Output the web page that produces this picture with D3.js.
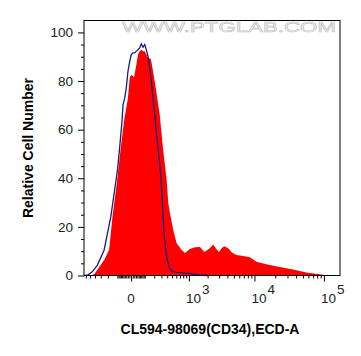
<!DOCTYPE html>
<html><head><meta charset="utf-8">
<script src="https://cdn.jsdelivr.net/npm/d3@7"></script>
<style>body{margin:0;background:#fff}svg{display:block}</style>
</head><body>
<svg id="chart" width="361" height="356"></svg>
<script>
// Control (isotype) histogram – blue line
const controlX = [-650,-544,-449,-355,-250,-166,-99,-80,-61,-53,-41,-30,-19,-8,1,11,22,33,45,57,70,84,99,114,130,148,166,185,206,226,250,279,298,314,342,372,402,435,505,610,800,1040,1514,2000];
const controlY = [0,0.3,1.6,4.3,10.5,24.2,43.4,52.5,63.5,70.3,73.0,77.2,84.0,88.1,90.9,91.6,91.6,92.3,92.9,93.6,95.3,93.9,95.0,92.9,90.2,85.4,79.9,73.0,66.2,59.3,52.5,44.8,38.1,31.1,17.5,10.5,6.4,3.6,1.6,1.3,1.1,0.8,0.2,0];
// CD34 stained histogram – red fill
const sampleX = [-498,-415,-250,-186,-148,-105,-71,-46,-19,-8,1,18,33,45,57,70,84,99,114,130,159,173,206,226,274,325,390,421,455,527,610,751,856,1040,1258,1514,1783,2093,2439,2681,2977,3304,3602,4102,4655,5460,6825,8550,10700,14930,23200,36000,56000,86900,102400,120000];
const sampleY = [0,0.5,6.4,10.5,24.2,37.9,52.5,63.5,73.0,81.3,82.6,81.6,86.7,90.9,92.3,92.9,92.3,92.3,90.9,89.5,89.2,86.7,79.9,75.8,66.2,52.5,39.3,29.7,25.6,18.7,13.3,10.5,9.3,10.9,11.6,11.7,9.7,10.9,12.8,11.1,9.7,11.3,12.0,11.2,9.5,8.4,8.0,7.5,5.7,4.6,3.5,2.5,1.2,0.5,0.2,0];

const yTicks = [0,20,40,60,80,100];
const yMinorTicks = [5,10,15,25,30,35,45,50,55,65,70,75,85,90,95];
const xMajorTicks = [0,1000,10000,100000];
const xTickExponents = [null,3,4,5];
const xMinorTicks = [-600,-500,-400,-300,-200,-100,-90,-80,-70,-60,-50,-40,-30,-20,-10,10,20,30,40,50,60,70,80,90,100,200,300,400,500,600,700,800,900,
  2000,3000,4000,5000,6000,7000,8000,9000,20000,30000,40000,50000,60000,70000,80000,90000];
const xTitle = "CL594-98069(CD34),ECD-A";
const yTitle = "Relative Cell Number";
const watermark = "WWW.PTGLAB.COM";

const L = 84, R = 340, T = 20.5, B = 275.5;
const svg = d3.select("#chart");
const x = d3.scaleSymlog().constant(175).domain([-650,170000]).range([L,R]);
const y = d3.scaleLinear().domain([0,104.9]).range([B,T]);
const font = "'Liberation Sans', Arial, sans-serif";

// watermark
svg.append("text").attr("x",122).attr("y",32).attr("textLength",214).attr("lengthAdjust","spacingAndGlyphs")
  .attr("font-family",font).attr("font-size",14)
  .attr("fill","#f6f6f6").attr("stroke","#c4c4c4").attr("stroke-width",0.6).text(watermark);

const g = svg.append("g");
const area = d3.area().x((d,i)=>x(sampleX[i])).y0(y(0)).y1((d,i)=>y(sampleY[i]));
g.append("path").datum(sampleY).attr("d",area).attr("fill","#ff0000");
const line = d3.line().x((d,i)=>x(controlX[i])).y((d,i)=>y(controlY[i]));
g.append("path").datum(controlY).attr("d",line).attr("fill","none").attr("stroke","#1a1a80").attr("stroke-width",1.3);

// frame
svg.append("rect").attr("x",L).attr("y",T).attr("width",R-L).attr("height",B-T)
  .attr("fill","none").attr("stroke","#000").attr("stroke-width",1);

// y axis
const yMaj = svg.append("g").attr("transform",`translate(${L},0)`)
  .call(d3.axisLeft(y).tickValues(yTicks).tickSize(6).tickPadding(5));
const yMin = svg.append("g").attr("transform",`translate(${L},0)`)
  .call(d3.axisLeft(y).tickValues(yMinorTicks).tickSize(3).tickFormat(""));
// x axis
const xMaj = svg.append("g").attr("transform",`translate(0,${B})`)
  .call(d3.axisBottom(x).tickValues(xMajorTicks).tickSize(6).tickFormat(""));
const xMin = svg.append("g").attr("transform",`translate(0,${B})`)
  .call(d3.axisBottom(x).tickValues(xMinorTicks).tickSize(3).tickFormat(""));
[yMaj,yMin,xMaj,xMin].forEach(a=>{a.select(".domain").remove();a.selectAll("line").attr("stroke","#000");});
yMaj.selectAll("text").attr("font-family",font).attr("font-size",13.5).attr("fill","#222");

// x tick labels
xMajorTicks.forEach((v,i)=>{
  const e = xTickExponents[i];
  if(e===null){
    svg.append("text").attr("x",x(v)).attr("y",302.5).attr("text-anchor","middle")
      .attr("font-family",font).attr("font-size",13.5).attr("fill","#222").text("0");
  } else {
    const t = svg.append("text").attr("x",x(v)-3).attr("y",302.5)
      .attr("font-family",font).attr("font-size",13.5).attr("fill","#222");
    t.append("tspan").text("10");
    t.append("tspan").attr("dy",-9).attr("dx",1).text(String(e));
  }
});

// titles
svg.append("text").attr("x",210).attr("y",334).attr("text-anchor","middle")
  .attr("font-family",font).attr("font-size",14).attr("font-weight","bold").text(xTitle);
svg.append("text").attr("transform","translate(32.5,148) rotate(-90)").attr("text-anchor","middle")
  .attr("font-family",font).attr("font-size",14).attr("font-weight","bold").text(yTitle);
</script>
</body></html>
